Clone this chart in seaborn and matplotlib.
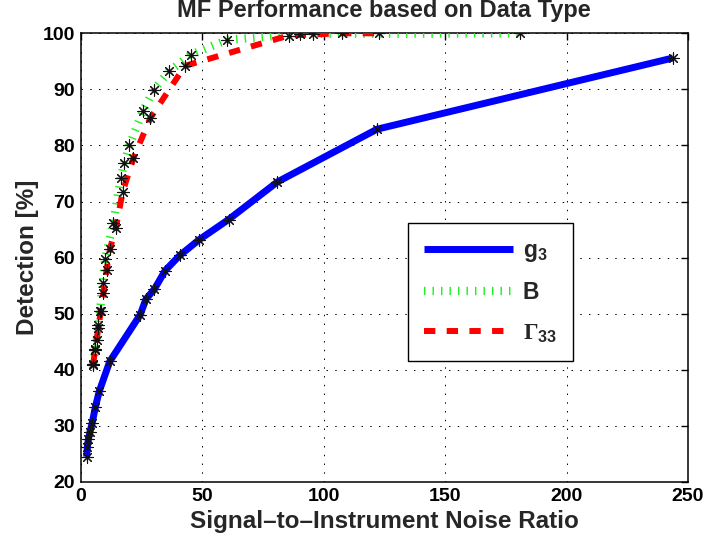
import matplotlib
matplotlib.use("Agg")
import matplotlib.pyplot as plt
import seaborn as sns
import pandas as pd

# ---- data ----
g3_x = [2.5, 2.8, 3.2, 3.9, 4.8, 6.1, 7.7, 12.0, 24.5, 26.9, 30.4, 34.8, 40.8, 48.8, 60.9, 81.0, 122.0, 243.8]
g3_y = [24.5, 26.3, 27.6, 29.0, 30.6, 33.4, 36.2, 41.5, 49.8, 52.6, 54.4, 57.7, 60.4, 63.2, 66.8, 73.5, 82.9, 95.6]

b_x = [5.2, 6.0, 6.6, 7.3, 8.0, 9.1, 10.1, 13.5, 16.5, 18.0, 20.1, 25.6, 30.1, 36.4, 45.4, 60.2, 90.4, 181.0]
b_y = [41.0, 43.8, 45.4, 48.0, 50.4, 55.5, 59.7, 66.2, 74.2, 76.9, 80.0, 86.1, 89.9, 93.2, 96.2, 98.8, 99.9, 100.0]

g33_x = [5.2, 5.9, 7.3, 8.3, 9.4, 10.7, 12.1, 14.5, 17.3, 21.7, 28.7, 43.0, 85.6, 95.6, 107.6, 122.7]
g33_y = [40.9, 43.6, 47.4, 50.5, 53.7, 57.8, 61.6, 65.3, 71.7, 77.7, 84.9, 94.2, 99.6, 99.8, 100.0, 100.0]

labels = [r'$\mathbf{g}_{\mathbf{3}}$', 'B', r'$\Gamma_{\mathbf{33}}$']
x_ticks = [0, 50, 100, 150, 200, 250]
y_ticks = [20, 30, 40, 50, 60, 70, 80, 90, 100]

title = "MF Performance based on Data Type"
xlabel = "Signal\u2013to\u2013Instrument Noise Ratio"
ylabel = "Detection [%]"

# ---- style ----
sns.set_style("white")
plt.rcParams['font.family'] = ['Liberation Sans', 'DejaVu Sans']
plt.rcParams['font.weight'] = 'bold'
plt.rcParams['mathtext.fontset'] = 'custom'
plt.rcParams['mathtext.rm'] = 'Liberation Serif'
plt.rcParams['mathtext.bf'] = 'Liberation Sans:bold'
plt.rcParams['mathtext.it'] = 'Liberation Sans:italic'

fig = plt.figure(figsize=(7.05, 5.46), dpi=100)
ax = fig.add_axes([80.6 / 705, 1 - 482 / 546, (688 - 80.6) / 705, (482 - 33.3) / 546])

df_g3 = pd.DataFrame({"x": g3_x, "y": g3_y})
df_b = pd.DataFrame({"x": b_x, "y": b_y})
df_g33 = pd.DataFrame({"x": g33_x, "y": g33_y})

sns.lineplot(data=df_g3, x="x", y="y", ax=ax, sort=False, estimator=None,
             color="#0000ff", lw=5.0, solid_capstyle="butt", zorder=3)
h1 = ax.lines[-1]
sns.lineplot(data=df_b, x="x", y="y", ax=ax, sort=False, estimator=None,
             color="#22ee22", lw=6.0, linestyle=(0, (0.17, 0.85)), zorder=3)
h2 = ax.lines[-1]
h2.set_dash_capstyle("butt")
sns.lineplot(data=df_g33, x="x", y="y", ax=ax, sort=False, estimator=None,
             color="#ff0000", lw=4.3, linestyle=(0, (1.9, 1.9)), zorder=4)
h3 = ax.lines[-1]
h3.set_dash_capstyle("butt")

for d in (df_g3, df_b, df_g33):
    sns.scatterplot(data=d, x="x", y="y", ax=ax, marker=(8, 2, 0), color="#111111",
                    s=65, linewidth=0.8, zorder=5, legend=False)

ax.set_xlim(0, 250)
ax.set_ylim(20, 100)
ax.set_xticks(x_ticks)
ax.set_yticks(y_ticks)
ax.set_xticklabels([str(v) for v in x_ticks])
ax.set_yticklabels([str(v) for v in y_ticks])
ax.tick_params(direction="in", length=5, width=1, labelsize=14, pad=4,
               top=True, right=True, colors="black")
for lab in ax.get_xticklabels() + ax.get_yticklabels():
    lab.set_fontweight("bold")

ax.grid(True, color="black", linestyle=(0, (1.5, 7.5)), lw=0.7)
for s in ax.spines.values():
    s.set_visible(True)
    s.set_color("black")
    s.set_linewidth(1.1)

ax.set_title(title, fontsize=17, fontweight="bold", pad=11.5)
ax.set_xlabel(xlabel, fontsize=17.5, fontweight="bold", labelpad=4)
ax.set_ylabel(ylabel, fontsize=17.5, fontweight="bold", labelpad=3)

leg = ax.legend([h1, h2, h3], labels, loc="upper left",
                bbox_to_anchor=(408 / 705, 1 - 223 / 546), bbox_transform=fig.transFigure,
                borderaxespad=0, fancybox=False, framealpha=1, edgecolor="black",
                prop={"weight": "bold", "size": 16.5}, handlelength=3.9,
                handletextpad=0.4, labelspacing=0.75, borderpad=0.7)
leg.get_frame().set_linewidth(1.0)

fig.savefig("out.png", dpi=100)
